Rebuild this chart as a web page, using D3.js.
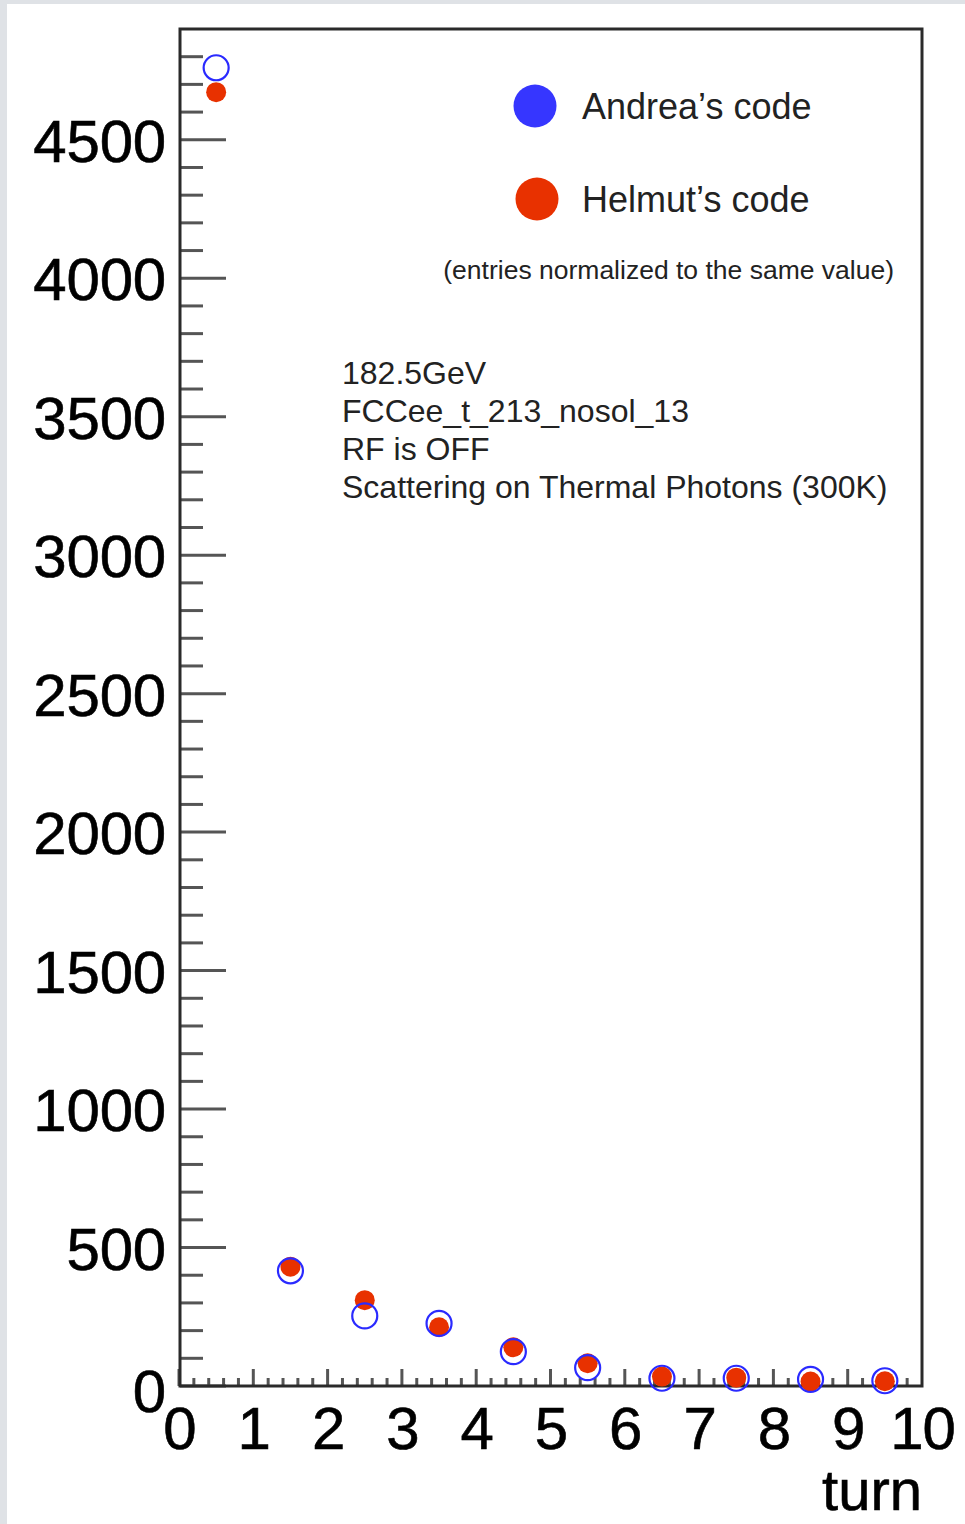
<!DOCTYPE html>
<html><head><meta charset="utf-8">
<script src="https://cdn.jsdelivr.net/npm/d3@7"></script>
<style>
html,body{margin:0;padding:0;background:#dfe2e6;}
svg{display:block;font-family:"Liberation Sans",Arial,Helvetica,sans-serif;}
</style></head>
<body>
<svg id="c" width="965" height="1524"></svg>
<script>
const turns = [0.5,1.5,2.5,3.5,4.5,5.5,6.5,7.5,8.5,9.5];
const andrea = [4760,416,253,226,124,66,28,28,24,19];
const helmut = [4672,431,310,212,140,82,34,30,16,17];
const yTickValues = [0,500,1000,1500,2000,2500,3000,3500,4000,4500];
const xTickValues = [0,1,2,3,4,5,6,7,8,9,10];
const seriesNames = ["Andrea\u2019s code","Helmut\u2019s code"];
const infoLines = ["182.5GeV","FCCee_t_213_nosol_13","RF is OFF","Scattering on Thermal Photons (300K)"];
const noteText = "(entries normalized to the same value)";
const xTitle = "turn";

const svg = d3.select("#c");
svg.append("rect").attr("x",7).attr("y",4).attr("width",958).attr("height",1520).attr("fill","#fff");

const L=180,R=922,T=29,B=1386;
const x = d3.scaleLinear().domain([0,10]).range([179,922]);
const y = d3.scaleLinear().domain([0,4900]).range([B,T]);

const tickCol="#555";
const yMinor = d3.range(0,4900,100);
svg.append("g").selectAll("line").data(yMinor).join("line")
  .attr("x1",L).attr("x2",d=>L+(d%500===0?46:23))
  .attr("y1",d=>y(d)).attr("y2",d=>y(d))
  .attr("stroke",tickCol).attr("stroke-width",3);
const xMinor = d3.range(0,50).map(i=>i/5);
svg.append("g").selectAll("line").data(xMinor).join("line")
  .attr("x1",d=>x(d)).attr("x2",d=>x(d))
  .attr("y1",B).attr("y2",d=>B-(Math.abs(d-Math.round(d))<1e-6?17:8))
  .attr("stroke",tickCol).attr("stroke-width",3);

const yAxis = d3.axisLeft(y).tickValues(yTickValues).tickFormat(d3.format("d")).tickSize(0).tickPadding(14);
const gy = svg.append("g").attr("transform",`translate(${L},0)`).call(yAxis);
gy.select(".domain").remove();
gy.selectAll("text").attr("font-size",60).attr("fill","#000").attr("letter-spacing",-0.2)
  .attr("stroke","#000").attr("stroke-width",0.6)
  .attr("font-family","Liberation Sans, Arial, sans-serif").attr("dy","0.36em");
gy.selectAll(".tick").filter(d=>d===0).select("text").attr("dy","0.42em");
const xAxis = d3.axisBottom(x).tickValues(xTickValues).tickFormat(d3.format("d")).tickSize(0).tickPadding(20);
const gx = svg.append("g").attr("transform",`translate(0,${B})`).call(xAxis);
gx.select(".domain").remove();
gx.selectAll("text").attr("font-size",60).attr("fill","#000").attr("letter-spacing",-1)
  .attr("stroke","#000").attr("stroke-width",0.6)
  .attr("font-family","Liberation Sans, Arial, sans-serif").attr("dy","0.72em");

svg.append("rect").attr("x",L).attr("y",T).attr("width",R-L).attr("height",B-T)
  .attr("fill","none").attr("stroke","#2a2a2a").attr("stroke-width",3);

svg.append("text").attr("x",R).attr("y",1510).attr("text-anchor","end")
  .attr("font-size",58).attr("fill","#000").attr("stroke","#000").attr("stroke-width",0.6).text(xTitle);

const red="#e83100", blue="#2a2aff";
svg.append("g").selectAll("circle").data(turns).join("circle")
  .attr("cx",d=>x(d)).attr("cy",(d,i)=>y(helmut[i])).attr("r",10).attr("fill",red);
svg.append("g").selectAll("circle").data(turns).join("circle")
  .attr("cx",d=>x(d)).attr("cy",(d,i)=>y(andrea[i])).attr("r",12.5)
  .attr("fill","none").attr("stroke",blue).attr("stroke-width",2.2);

const leg = [{c:"#3636ff",cx:535,cy:106,ty:119},{c:red,cx:537,cy:199,ty:212}];
leg.forEach((l,i)=>{
  svg.append("circle").attr("cx",l.cx).attr("cy",l.cy).attr("r",21.5).attr("fill",l.c);
  svg.append("text").attr("x",582).attr("y",l.ty).attr("font-size",36).attr("fill","#222").text(seriesNames[i]);
});
svg.append("text").attr("x",894).attr("y",279).attr("text-anchor","end")
  .attr("font-size",26.5).attr("fill","#222").text(noteText);

svg.append("g").selectAll("text").data(infoLines).join("text")
  .attr("x",342).attr("y",(d,i)=>384+i*38).attr("font-size",32).attr("fill","#222").text(d=>d);
</script>
</body></html>
